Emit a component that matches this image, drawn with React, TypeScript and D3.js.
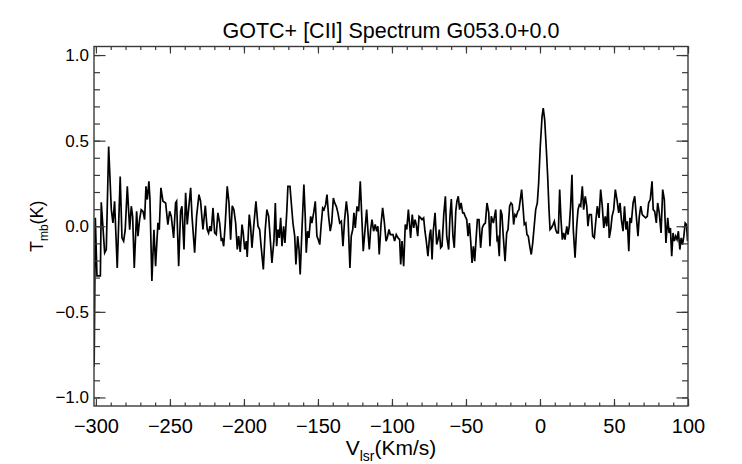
import React, { useEffect, useRef } from 'react';
import * as d3 from 'd3';

// velocity channels (km/s) and main-beam temperature (K)
const velocity: number[] = [
    -301.2, -300.4, -299.3, -297.0, -296.4, -295.3, -294.1, -293.0, -291.4, -289.6, -288.5, -287.4, -285.6, -283.6,
    -282.4, -281.3, -280.2, -278.8, -277.2, -276.1, -275.2, -274.1, -272.5, -271.6, -270.5, -269.4, -268.2, -267.1,
    -266.2, -265.3, -264.2, -263.5, -262.2, -260.8, -259.7, -258.1, -257.2, -256.1, -254.7, -252.9, -251.4, -250.2,
    -249.1, -247.5, -246.2, -245.5, -244.1, -242.8, -241.9, -240.5, -239.4, -238.3, -237.2, -236.0, -235.1,
    -233.3, -232.0, -230.4, -229.3, -227.7, -226.1, -224.8, -223.9, -223.0, -222.1, -220.9, -219.8, -218.7, -217.6,
    -216.4, -215.3, -214.7, -213.7, -212.6, -211.3, -210.1, -209.0, -207.9, -206.8, -205.6, -204.5, -203.6, -202.5,
    -201.3, -200.5, -199.5, -198.4, -197.8, -196.4, -195.5, -194.6, -193.2, -191.9, -190.5, -189.4, -188.3, -186.9,
    -185.6, -184.5, -183.3, -182.2, -181.1, -179.7, -178.8, -177.9, -177.0, -176.1, -175.2, -174.3, -173.2, -172.3,
    -171.1, -170.3, -168.9, -168.0,
    -166.9, -165.7, -164.9, -163.7, -162.8, -162.0, -160.8, -159.5, -158.6, -157.9, -157.0, -156.1, -154.9, -154.1,
    -152.9, -151.8, -150.7, -149.8, -148.8, -147.8, -146.8, -145.9, -144.8, -143.9, -142.8, -141.7, -140.7, -139.6,
    -138.7, -137.6, -136.5, -135.3, -134.2, -133.1, -132.0, -130.8, -129.7, -128.4, -127.5, -126.5, -125.7, -124.8,
    -123.6, -122.5, -121.4, -120.4, -119.4, -118.2, -117.1, -116.0, -115.3, -114.4, -113.5, -112.4, -111.3, -110.3,
    -109.5, -108.6, -107.4, -106.3, -105.2, -104.0, -103.2, -102.0, -101.1, -100.2,
    -99.3, -98.2, -97.1, -95.9, -94.8, -94.1, -93.2, -92.1, -91.0, -90.0, -88.9, -88.0, -87.4, -86.3, -85.3, -84.4,
    -83.6, -82.6, -81.7, -80.6, -79.7, -78.6, -77.7, -76.8, -75.7, -74.5, -73.8, -72.9, -72.1, -70.9, -69.8, -68.9,
    -68.0, -67.1, -66.2, -65.0, -63.9, -63.0, -61.7, -60.8, -59.9, -58.8, -57.9, -56.9, -56.1, -55.2, -54.3, -53.3,
    -52.2, -51.4, -50.5, -49.5, -48.6, -47.7, -46.8, -45.9, -45.0, -44.1, -43.2, -42.3, -41.2, -40.1, -39.0, -38.0,
    -36.9, -35.8, -34.6, -33.8, -32.9,
    -31.5, -30.9, -29.9, -29.0, -28.4, -27.5, -26.6, -25.7, -24.8, -23.6, -22.5, -21.6, -20.5, -19.6, -18.7, -17.8,
    -16.9, -16.0, -15.0, -14.2, -13.0, -12.4, -11.5, -10.6, -9.6, -8.8, -7.9, -6.9, -5.9, -4.9, -3.8, -2.9, -1.8,
    -0.9, 0.2, 1.4, 2.2, 3.2, 4.3, 5.2, 6.1, 6.8, 7.7, 8.8, 9.7, 10.6, 11.5, 12.4, 13.3, 14.2, 15.1, 16.0, 16.9,
    18.1, 18.9, 19.8, 20.7, 21.6, 22.5, 23.7, 24.8, 25.7, 26.6, 27.5, 28.6, 29.5, 30.6, 31.6, 32.4, 33.3, 34.7,
    35.6, 36.7, 37.6, 38.7, 39.9, 41.0, 42.1, 43.1, 44.1, 45.1, 46.0, 46.8, 47.8, 48.7, 49.8, 50.9, 52.0, 53.2,
    54.1, 55.0, 56.1, 57.1, 58.1, 59.0, 60.0, 60.8, 61.7, 62.9, 64.0, 65.1, 66.2, 67.1, 68.1, 69.1, 70.3, 71.4,
    72.5, 73.4, 74.5, 75.7, 76.5, 77.5, 78.6, 79.5, 80.6, 81.8, 82.9, 84.0, 85.1, 86.3, 87.2, 88.1, 89.0, 89.9,
    90.8, 91.7, 92.6, 93.5, 94.5, 95.4, 96.3, 97.2, 98.1, 99.0, 99.7,
];

const tmb: number[] = [
    -0.82, 0.05, -0.29, -0.29, 0.14, 0.0, -0.155, -0.136, 0.466, 0.097, 0.02, 0.146, -0.243, 0.29,
    -0.068, -0.087, -0.02, 0.233, -0.02, 0.117, 0.058, -0.243, 0.087, -0.058, 0.039, 0.097, 0.087, 0.039,
    0.233, 0.156, 0.262, 0.156, -0.32, -0.02, -0.233, 0.02, -0.02, 0.224, 0.146, 0.136, 0.01, 0.087,
    0.058, -0.068, 0.136, 0.146, -0.233, 0.087, 0.117, -0.136, 0.195, 0.01, 0.117, 0.224, 0.058,
    -0.155, 0.058, 0.185, 0.146, -0.019, 0.12, -0.019, -0.039, 0.0, -0.029, 0.107, -0.039, -0.049, 0.078,
    0.019, -0.087, -0.068, -0.117, 0.019, 0.233, 0.136, -0.078, 0.12, 0.097, 0.019, -0.136, -0.058, -0.15,
    0.01, -0.039, -0.136, -0.087, -0.179, 0.068, 0.0, -0.126, 0.019, 0.146, 0.0, -0.019, -0.126, -0.252,
    -0.019, 0.097, 0.058, -0.078, -0.214, -0.078, 0.136, -0.117, -0.019, -0.068, 0.049, -0.117, 0.0, -0.097,
    0.078, 0.233, 0.233, 0.136,
    0.019, -0.058, -0.223, -0.058, -0.136, -0.282, -0.019, 0.243, 0.058, -0.155, -0.029, -0.068, 0.058, 0.019,
    0.078, 0.146, -0.058, -0.078, -0.107, 0.01, 0.107, 0.097, 0.126, 0.185, 0.058, -0.029, 0.019, 0.165,
    0.136, 0.116, 0.078, 0.019, 0.029, -0.117, 0.039, 0.146, 0.058, -0.243, -0.058, -0.019, 0.078, -0.01,
    0.116, 0.087, 0.262, 0.058, -0.146, -0.019, 0.097, -0.058, -0.136, -0.019, 0.039, -0.029, 0.01, -0.029,
    0.0, -0.165, 0.01, 0.107, 0.029, -0.087, -0.068, -0.019, -0.049, -0.049,
    -0.049, -0.087, -0.049, -0.068, -0.078, -0.223, -0.087, -0.233, 0.01, -0.019, 0.097, 0.0, -0.068, 0.068, -0.01, 0.039,
    0.01, -0.058, 0.058, 0.049, 0.039, 0.049, -0.029, -0.087, -0.175, -0.049, -0.019, -0.194, -0.029, 0.078, -0.107, -0.078,
    -0.019, -0.126, -0.117, 0.068, 0.175, -0.058, -0.136, 0.058, 0.159, -0.058, -0.126, 0.087, 0.146, 0.175, 0.097, 0.136,
    0.078, 0.078, 0.058, 0.039, -0.058, 0.019, -0.087, -0.214, -0.117, -0.204, -0.078, 0.039, 0.039, -0.126, -0.01, 0.01,
    0.019, 0.136, 0.078, -0.117, 0.058,
    0.019, 0.049, 0.097, -0.078, -0.068, -0.175, 0.097, 0.068, -0.058, -0.204, -0.039, -0.019, 0.117, 0.136, 0.126, 0.01,
    0.068, 0.058, 0.087, 0.097, 0.175, 0.214, 0.117, 0.01, 0.019, -0.049, -0.058, -0.117, -0.165, -0.097, 0.01, 0.097, 0.136,
    0.253, 0.466, 0.641, 0.69, 0.62, 0.447, 0.291, 0.097, -0.019, -0.01, 0.01, 0.029, -0.019, -0.039, -0.039, 0.214, 0.039, -0.078, -0.039, -0.078,
    0.0, -0.049, 0.0, 0.117, 0.301, -0.019, -0.184, 0.0, 0.097, 0.126, 0.117, 0.233, 0.097, 0.175, 0.117, 0.0, 0.068, 0.068,
    -0.058, -0.068, 0.019, 0.117, 0.049, 0.214, 0.116, -0.01, 0.058, 0.0, 0.136, -0.068, -0.019, 0.058, 0.097, 0.214, 0.156, 0.078,
    0.136, 0.039, -0.029, 0.117, -0.019, 0.029, -0.146, 0.049, 0.019, 0.136, 0.175, 0.058, -0.058, 0.058, 0.117, 0.068, 0.058, 0.049,
    0.058, 0.136, 0.156, 0.262, 0.097, 0.087, 0.019, 0.136, 0.078, -0.039, 0.214, 0.156, -0.097, 0.049, -0.039, -0.01, -0.175, -0.039,
    -0.087, -0.058, -0.078, -0.029, -0.136, -0.068, -0.107, -0.058, 0.019, 0.01, -0.087,
];

const xTicks = [-300, -250, -200, -150, -100, -50, 0, 50, 100];
const xTickLabels = ['\u2212300', '\u2212250', '\u2212200', '\u2212150', '\u2212100', '\u221250', '0', '50', '100'];
const yTicks = [-1.0, -0.5, 0.0, 0.5, 1.0];
const yTickLabels = ['\u22121.0', '\u22120.5', '0.0', '0.5', '1.0'];
const xMinor = d3.range(-300, 101, 10);
const yMinor = d3.range(-10, 11, 1).map(d => d / 10);
const title = 'GOTC+ [CII] Spectrum G053.0+0.0';

const FONT = '"Liberation Sans", Arial, Helvetica, sans-serif';
const AXIS_COLOR = '#3a3a3a';

const SpectrumChart: React.FC = () => {
    const chartRef = useRef<SVGSVGElement>(null);

    useEffect(() => {
        const svg = d3.select(chartRef.current);
        svg.selectAll("*").remove();

        const margin = { top: 46.5, right: 54, bottom: 58, left: 94 };
        const width = 742 - margin.left - margin.right;
        const height = 464 - margin.top - margin.bottom;

        const x = d3.scaleLinear().domain([-301.3, 100]).range([0, width]);
        const y = d3.scaleLinear().domain([-1.05, 1.05]).range([height, 0]);

        const g = svg.append("g")
            .attr("transform", `translate(${margin.left},${margin.top})`);

        g.append("clipPath").attr("id", "plot-clip")
            .append("rect").attr("width", width).attr("height", height);

        const n = Math.min(velocity.length, tmb.length);
        const points: [number, number][] = d3.range(n).map(i => [velocity[i], tmb[i]]);

        const line = d3.line<[number, number]>()
            .x(d => x(d[0]))
            .y(d => y(d[1]));

        g.append("path")
            .datum(points)
            .attr("clip-path", "url(#plot-clip)")
            .attr("fill", "none")
            .attr("stroke", "#000")
            .attr("stroke-width", 1.7)
            .attr("stroke-linejoin", "miter")
            .attr("d", line);

        const styleAxis = (sel: d3.Selection<SVGGElement, unknown, null, undefined>, size: number) => {
            sel.select(".domain").remove();
            sel.selectAll(".tick line").attr("stroke", AXIS_COLOR).attr("stroke-width", 1.2);
            sel.selectAll("text").attr("fill", "#000").style("font-family", FONT).style("font-size", `${size}px`);
        };

        // bottom axis: major + minor ticks pointing inward
        g.append("g")
            .attr("transform", `translate(0,${height})`)
            .call(d3.axisBottom(x).tickValues(xMinor).tickSize(-3.5).tickFormat(() => ""))
            .call(s => styleAxis(s, 20));
        g.append("g")
            .attr("transform", `translate(0,${height})`)
            .call(d3.axisBottom(x).tickValues(xTicks).tickSize(-7).tickPadding(12.5)
                .tickFormat((_, i) => xTickLabels[i]))
            .call(s => styleAxis(s, 20));

        // top axis (no labels)
        g.append("g")
            .call(d3.axisTop(x).tickValues(xMinor).tickSize(-3.5).tickFormat(() => ""))
            .call(s => styleAxis(s, 20));
        g.append("g")
            .call(d3.axisTop(x).tickValues(xTicks).tickSize(-7).tickFormat(() => ""))
            .call(s => styleAxis(s, 20));

        // left axis
        g.append("g")
            .call(d3.axisLeft(y).tickValues(yMinor).tickSize(-6).tickFormat(() => ""))
            .call(s => styleAxis(s, 17));
        g.append("g")
            .call(d3.axisLeft(y).tickValues(yTicks).tickSize(-11.5).tickPadding(5)
                .tickFormat((_, i) => yTickLabels[i]))
            .call(s => styleAxis(s, 17));

        // right axis (no labels)
        g.append("g")
            .attr("transform", `translate(${width},0)`)
            .call(d3.axisRight(y).tickValues(yMinor).tickSize(-6).tickFormat(() => ""))
            .call(s => styleAxis(s, 17));
        g.append("g")
            .attr("transform", `translate(${width},0)`)
            .call(d3.axisRight(y).tickValues(yTicks).tickSize(-11.5).tickFormat(() => ""))
            .call(s => styleAxis(s, 17));

        g.append("rect")
            .attr("width", width)
            .attr("height", height)
            .attr("fill", "none")
            .attr("stroke", AXIS_COLOR)
            .attr("stroke-width", 1.4);

        svg.append("text")
            .attr("x", margin.left + width / 2)
            .attr("y", 38)
            .attr("text-anchor", "middle")
            .style("font-family", FONT)
            .style("font-size", "21.5px")
            .text(title);

        const xTitle = svg.append("text")
            .attr("x", margin.left + width / 2)
            .attr("y", 455)
            .attr("text-anchor", "middle")
            .style("font-family", FONT)
            .style("font-size", "21px");
        xTitle.append("tspan").text("V");
        xTitle.append("tspan").attr("dy", 6).style("font-size", "14px").text("lsr");
        xTitle.append("tspan").attr("dy", -6).text("(Km/s)");

        const yTitle = svg.append("text")
            .attr("transform", `translate(43,${margin.top + y(0)}) rotate(-90)`)
            .attr("text-anchor", "middle")
            .style("font-family", FONT)
            .style("font-size", "18px");
        yTitle.append("tspan").text("T");
        yTitle.append("tspan").attr("dy", 5).style("font-size", "12px").text("mb");
        yTitle.append("tspan").attr("dy", -5).text("(K)");
    }, []);

    return (
        <svg ref={chartRef} width="742" height="464"
            style={{ position: 'fixed', left: 0, top: 0, background: '#fff' }}></svg>
    );
};

export default function App() {
    return <SpectrumChart />;
}
